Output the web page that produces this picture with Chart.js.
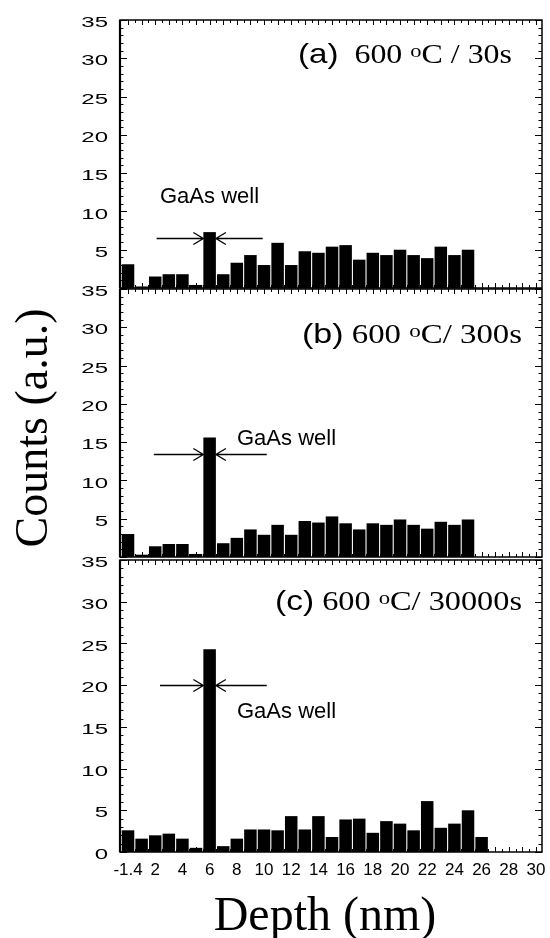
<!DOCTYPE html>
<html>
<head>
<meta charset="utf-8">
<script src="https://cdn.jsdelivr.net/npm/chart.js@4/dist/chart.umd.min.js"></script>
<style>
  html, body { margin: 0; padding: 0; background: #fff; }
  #wrap { position: relative; width: 550px; height: 938px; }
  #wrap canvas { position: absolute; left: 0; top: 0; }
</style>
</head>
<body>
<div id="wrap">
  <canvas id="panelA" width="550" height="938"></canvas>
  <canvas id="panelB" width="550" height="938"></canvas>
  <canvas id="panelC" width="550" height="938"></canvas>
</div>
<script>
// depth bins (nm) and counts per bin
const depthAB = [0, 1, 2, 3, 4, 5, 6, 7, 8, 9, 10, 11, 12, 13, 14, 15, 16, 17, 18, 19, 20, 21, 22, 23, 24, 25];
const depthC = [0, 1, 2, 3, 4, 5, 6, 7, 8, 9, 10, 11, 12, 13, 14, 15, 16, 17, 18, 19, 20, 21, 22, 23, 24, 25, 26];

const countsA = [3.1, 0.2, 1.5, 1.8, 1.8, 0.4, 7.3, 1.8, 3.3, 4.3, 3.0, 5.9, 3.0, 4.8, 4.6, 5.4, 5.6, 3.7, 4.6, 4.3, 5.0, 4.3, 3.9, 5.4, 4.3, 5.0];
const countsB = [3.0, 0.3, 1.4, 1.7, 1.7, 0.4, 15.6, 1.8, 2.5, 3.6, 2.9, 4.2, 2.9, 4.7, 4.5, 5.3, 4.4, 3.6, 4.4, 4.2, 4.9, 4.2, 3.7, 4.6, 4.2, 4.9];
const countsC = [2.6, 1.6, 2.0, 2.2, 1.6, 0.5, 24.3, 0.7, 1.6, 2.7, 2.7, 2.6, 4.3, 2.7, 4.3, 1.8, 3.9, 4.0, 2.3, 3.7, 3.4, 2.6, 6.1, 2.9, 3.4, 5.0, 1.8];

const yTicks = [0, 5, 10, 15, 20, 25, 30, 35];
const xTicks = [0, 2, 4, 6, 8, 10, 12, 14, 16, 18, 20, 22, 24, 26, 28, 30];
const xTickLabels = ['-1.4', '2', '4', '6', '8', '10', '12', '14', '16', '18', '20', '22', '24', '26', '28', '30'];

// GaAs well bin and the arrow marking it
const wellIndex = 6;
const wellArrowY = [6.5, 13.4, 20];
const wellArrowFrom = [2.1, 1.9, 2.35];
const wellArrowTo = [9.9, 10.2, 10.2];

const SERIF = '"Liberation Serif", "Times New Roman", serif';
const SANS = '"Liberation Sans", Arial, sans-serif';

function drawRuns(ctx, runs, x0, x1, base) {
    let w = 0;
    for (const r of runs) {
        ctx.font = r.font;
        w += ctx.measureText(r.text).width;
    }
    const sx = (x1 - x0) / w;
    ctx.save();
    ctx.translate(x0, base);
    ctx.scale(sx, 1);
    ctx.textAlign = 'left';
    ctx.textBaseline = 'alphabetic';
    let cx = 0;
    for (const r of runs) {
        ctx.font = r.font;
        ctx.fillText(r.text, cx, r.dy || 0);
        cx += ctx.measureText(r.text).width;
    }
    ctx.restore();
}

function titleRuns(tag, gap, tail) {
    return [
        {text: tag, font: '28px ' + SANS},
        {text: gap + '600 ', font: '27px ' + SERIF},
        {text: 'o', font: '19px ' + SERIF, dy: -6},
        {text: tail, font: '27px ' + SERIF},
    ];
}

const panelDecor = {
    id: 'panelDecor',
    afterDraw(chart, args, o) {
        const {ctx, chartArea: a} = chart;
        const x = chart.scales.x;
        const y = chart.scales.y;
        ctx.save();
        ctx.strokeStyle = '#000';
        ctx.fillStyle = '#000';

        // inward ticks on all four sides
        ctx.lineWidth = 1;
        ctx.beginPath();
        for (let v = 0; v <= x.max; v += 0.5) {
            const px = Math.round(x.getPixelForValue(v)) + 0.5;
            const len = Number.isInteger(v) ? 5 : 3;
            ctx.moveTo(px, a.bottom);
            ctx.lineTo(px, a.bottom - len);
            ctx.moveTo(px, a.top);
            ctx.lineTo(px, a.top + len);
        }
        for (let v = 0; v <= 35; v++) {
            const py = Math.round(y.getPixelForValue(v)) + 0.5;
            const len = v % 5 === 0 ? 7 : 3.5;
            ctx.moveTo(a.left, py);
            ctx.lineTo(a.left + len, py);
            ctx.moveTo(a.right, py);
            ctx.lineTo(a.right - len, py);
        }
        ctx.stroke();

        // frame
        ctx.lineWidth = 1.5;
        ctx.strokeRect(a.left, a.top, a.right - a.left, a.bottom - a.top);
        ctx.lineWidth = 2.2;
        ctx.beginPath();
        ctx.moveTo(a.left, a.top);
        ctx.lineTo(a.left, a.bottom);
        ctx.stroke();

        // y tick labels (wide face)
        ctx.font = '15px ' + SANS;
        ctx.textAlign = 'right';
        ctx.textBaseline = 'middle';
        for (const v of yTicks) {
            if (v === 0 && o.hideZero) continue;
            ctx.save();
            ctx.translate(108, y.getPixelForValue(v) + 3);
            ctx.scale(1.6, 1);
            ctx.fillText(String(v), 0, 0);
            ctx.restore();
        }

        // x tick labels and axis titles on the bottom panel
        if (o.xAxis) {
            ctx.font = '17px ' + SANS;
            ctx.textAlign = 'center';
            ctx.textBaseline = 'middle';
            xTicks.forEach((v, i) => {
                ctx.fillText(xTickLabels[i], x.getPixelForValue(v), 870);
            });

            ctx.font = '48px ' + SERIF;
            ctx.textAlign = 'center';
            ctx.textBaseline = 'alphabetic';
            ctx.fillText('Depth (nm)', 325, 930);

            ctx.font = '46px ' + SERIF;
            ctx.save();
            ctx.translate(47, 428);
            ctx.rotate(-Math.PI / 2);
            ctx.fillText('Counts (a.u.)', 0, 0);
            ctx.restore();
        }

        // panel title
        drawRuns(ctx, o.title, o.titleX[0], o.titleX[1], o.titleBase);

        // GaAs well label and arrows
        ctx.font = '22px ' + SANS;
        ctx.textAlign = 'left';
        ctx.textBaseline = 'alphabetic';
        ctx.fillText('GaAs well', o.wellText[0], o.wellText[1]);

        const bar = chart.getDatasetMeta(0).data[wellIndex];
        const tipL = bar.x - bar.width / 2;
        const tipR = bar.x + bar.width / 2;
        const ay = Math.round(y.getPixelForValue(wellArrowY[o.idx])) + 0.5;
        ctx.lineWidth = 1.3;
        ctx.beginPath();
        ctx.moveTo(x.getPixelForValue(wellArrowFrom[o.idx]), ay);
        ctx.lineTo(tipL, ay);
        ctx.moveTo(tipL - 10, ay - 6);
        ctx.lineTo(tipL, ay);
        ctx.lineTo(tipL - 10, ay + 6);
        ctx.moveTo(x.getPixelForValue(wellArrowTo[o.idx]), ay);
        ctx.lineTo(tipR, ay);
        ctx.moveTo(tipR + 10, ay - 6);
        ctx.lineTo(tipR, ay);
        ctx.lineTo(tipR + 10, ay + 6);
        ctx.stroke();

        ctx.restore();
    }
};

window.initPanel = function (canvasId, depth, counts, top, bottom, decor) {
    const points = depth.map((d, i) => ({x: d, y: counts[i]}));
    return new Chart(document.getElementById(canvasId), {
        type: 'bar',
        data: {
            datasets: [{
                data: points,
                backgroundColor: '#000',
                borderWidth: 0,
                barPercentage: 0.92,
                categoryPercentage: 1,
            }],
        },
        options: {
            responsive: false,
            animation: false,
            events: [],
            layout: {padding: {left: 120, right: 8, top: top, bottom: 938 - bottom}},
            scales: {
                x: {type: 'linear', min: -0.59, max: 30.44, offset: false, display: false},
                y: {min: 0, max: 35, display: false},
            },
            plugins: {
                legend: {display: false},
                tooltip: {enabled: false},
                panelDecor: decor,
            },
        },
        plugins: [panelDecor],
    });
};

initPanel('panelA', depthAB, countsA, 20, 288, {
    idx: 0, hideZero: true, xAxis: false,
    title: titleRuns('(a)', '  ', 'C / 30s'), titleX: [298, 512], titleBase: 63,
    wellText: [160, 203],
});

initPanel('panelB', depthAB, countsB, 289, 557, {
    idx: 1, hideZero: true, xAxis: false,
    title: titleRuns('(b)', ' ', 'C/ 300s'), titleX: [302, 522], titleBase: 343,
    wellText: [237, 445],
});

initPanel('panelC', depthC, countsC, 560, 852, {
    idx: 2, hideZero: false, xAxis: true,
    title: titleRuns('(c)', ' ', 'C/ 30000s'), titleX: [275, 522], titleBase: 610,
    wellText: [237, 718],
});
</script>
</body>
</html>
